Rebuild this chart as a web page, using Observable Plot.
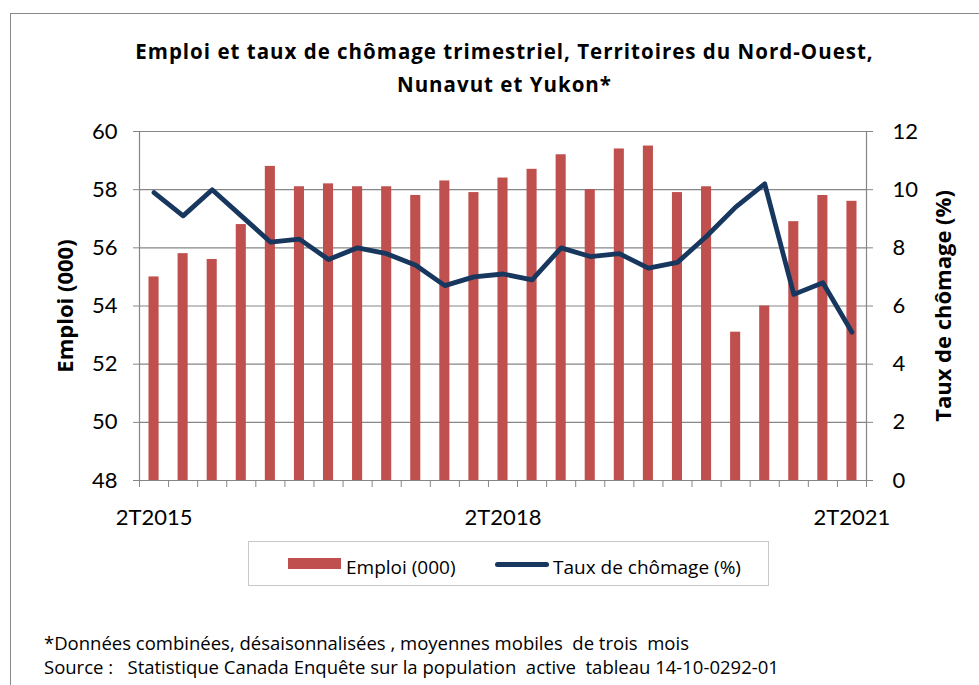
<!DOCTYPE html>
<html>
<head>
<meta charset="utf-8">
<script src="https://cdn.jsdelivr.net/npm/d3@7"></script>
<script src="https://cdn.jsdelivr.net/npm/@observablehq/plot@0.6"></script>
<style>
  html, body { margin: 0; padding: 0; background: #fff; }
  #fig { position: relative; width: 979px; height: 685px; overflow: hidden; font-family: "Open Sans", Lato, sans-serif; color: #000; }
  #frame { position: absolute; left: 10px; top: 13px; width: 980px; height: 700px; border-left: 1.5px solid #898989; border-top: 1.5px solid #898989; }
  .t { position: absolute; white-space: pre; }
  .title { font-weight: bold; font-size: 20.5px; letter-spacing: 1px; line-height: 24px; left: 0; width: 1009px; text-align: center; }
  #chart { position: absolute; left: 0; top: 0; }
  #legend { position: absolute; left: 248px; top: 541px; width: 521px; height: 45px; border: 1px solid #c8c8c8; box-sizing: border-box; }
  .leg { font-size: 19px; line-height: 20px; }
  .foot { font-size: 18.5px; line-height: 20px; left: 44px; }
</style>
</head>
<body>
<div id="fig">
  <div id="frame"></div>
  <div id="chart"></div>
  <div class="t title" style="top:39px">Emploi et taux de chômage trimestriel, Territoires du Nord-Ouest,</div>
  <div class="t title" style="top:72px">Nunavut et Yukon*</div>
  <div id="legend"></div>
  <div style="position:absolute;left:288px;top:558px;width:53px;height:11px;background:#C0504D"></div>
  <div class="t leg" style="left:346px;top:557px">Emploi (000)</div>
  <div style="position:absolute;left:495px;top:562px;width:54px;height:5px;border-radius:3px;background:#17375E"></div>
  <div class="t leg" style="left:553px;top:557px">Taux de chômage (%)</div>
  <div class="t foot" style="top:633px">*Données combinées, désaisonnalisées , moyennes mobiles  de trois  mois</div>
  <div class="t foot" style="top:657px">Source :   Statistique Canada Enquête sur la population  active  tableau 14-10-0292-01</div>
</div>
<script>
const quarters = ["2T2015","3T2015","4T2015","1T2016","2T2016","3T2016","4T2016","1T2017","2T2017","3T2017","4T2017","1T2018","2T2018","3T2018","4T2018","1T2019","2T2019","3T2019","4T2019","1T2020","2T2020","3T2020","4T2020","1T2021","2T2021"];
const emploi = [55.0, 55.8, 55.6, 56.8, 58.8, 58.1, 58.2, 58.1, 58.1, 57.8, 58.3, 57.9, 58.4, 58.7, 59.2, 58.0, 59.4, 59.5, 57.9, 58.1, 53.1, 54.0, 56.9, 57.8, 57.6];
const taux = [9.9, 9.1, 10.0, 9.1, 8.2, 8.3, 7.6, 8.0, 7.8, 7.4, 6.7, 7.0, 7.1, 6.9, 8.0, 7.7, 7.8, 7.3, 7.5, 8.4, 9.4, 10.2, 6.4, 6.8, 5.1];
const xTickLabels = ["2T2015", "2T2018", "2T2021"];
const leftTicks = [48, 50, 52, 54, 56, 58, 60];
const rightTicks = [0, 2, 4, 6, 8, 10, 12];
const yMin = 48; // base of the employment axis; rate axis 0..12 shares its span

const data = quarters.map((q, i) => ({q, i, emploi: emploi[i], taux: taux[i]}));
const labelPos = xTickLabels.map(l => quarters.indexOf(l) + 0.5);

const grey = "#868686";
const chart = Plot.plot({
  width: 979,
  height: 540,
  marginLeft: 139,
  marginRight: 113,
  marginTop: 131,
  marginBottom: 60,
  style: {fontFamily: "Lato, 'Open Sans', sans-serif", background: "transparent", overflow: "visible"},
  x: {type: "linear", domain: [0, quarters.length]},
  y: {domain: [48, 60]},
  marks: [
    Plot.ruleY(leftTicks, {stroke: grey, strokeWidth: 1.2}),
    Plot.rectY(data, {x1: "i", x2: d => d.i + 1, y1: yMin, y2: "emploi", fill: "#C0504D", insetLeft: 9.5, insetRight: 9.5}),
    Plot.ruleX([0, quarters.length], {y1: 48, y2: 60, stroke: grey, strokeWidth: 1.2}),
    Plot.line(data, {x: d => d.i + 0.5, y: d => yMin + d.taux, stroke: "#17375E", strokeWidth: 4.8, strokeLinejoin: "round", strokeLinecap: "round"}),
    Plot.axisY({anchor: "left", ticks: leftTicks, tickSize: 6, tickPadding: 16, fontSize: 22, label: null, stroke: grey, fill: "#000"}),
    Plot.axisY({anchor: "right", ticks: leftTicks, tickFormat: d => rightTicks[leftTicks.indexOf(d)], tickSize: 6, tickPadding: 20, fontSize: 22, label: null, stroke: grey, fill: "#000"}),
    Plot.axisX({ticks: d3.range(quarters.length + 1), tickFormat: () => "", tickSize: 7, label: null, stroke: grey}),
    Plot.axisX({ticks: labelPos, tickFormat: d => quarters[Math.round(d - 0.5)], tickSize: 0, tickPadding: 29, fontSize: 22, label: null, fill: "#000"}),
    Plot.text(["Emploi (000)"], {frameAnchor: "left", dx: -74, rotate: -90, textAnchor: "middle", lineAnchor: "middle", text: d => d, fontSize: 22, fontWeight: "bold", fontFamily: "'Open Sans', Lato, sans-serif", fill: "#000"}),
    Plot.text(["Taux de chômage (%)"], {frameAnchor: "right", dx: 77, rotate: -90, textAnchor: "middle", lineAnchor: "middle", text: d => d, fontSize: 22, fontWeight: "bold", fontFamily: "'Open Sans', Lato, sans-serif", fill: "#000"})
  ]
});
document.getElementById("chart").appendChild(chart);
</script>
</body>
</html>
